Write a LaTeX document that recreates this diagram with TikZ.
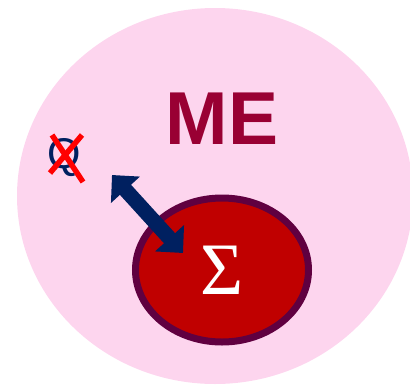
\documentclass[tikz,border=0pt]{standalone}
\usepackage{fontspec}
\setmainfont{Liberation Serif}
\setsansfont{Liberation Sans}
\usetikzlibrary{calc, arrows.meta, shapes.geometric}
\definecolor{pinkbg}{RGB}{253,213,238}
\definecolor{darkred}{RGB}{192,0,0}
\definecolor{plum}{RGB}{96,0,64}
\definecolor{crimson}{RGB}{153,0,51}
\definecolor{navy}{RGB}{0,32,96}
\definecolor{brightred}{RGB}{255,0,0}

\begin{document}
\begin{tikzpicture}[
  x=1pt, y=-1pt,
  region/.style={ellipse, fill=pinkbg, inner sep=0pt},
  core/.style={ellipse, draw=plum, line width=7pt, fill=darkred, inner sep=0pt,
             minimum width=173pt, minimum height=144pt,
             text=white, font=\fontsize{74}{74}\selectfont},
  label/.style={font=\sffamily\bfseries\fontsize{75}{75}\selectfont, text=crimson},
  dblarrow/.style={{Triangle[length=20pt, width=38pt]}-{Triangle[length=20pt, width=38pt]},
             line width=15pt, navy},
  cross/.style={line width=5.5pt, brightred},
]
\useasboundingbox (0,0) rectangle (410,384);
\node[region, minimum width=396pt, minimum height=376pt] (world) at (215,196) {};
\node[label] (me) at (222,119) {ME};
\node[core] (sigma) at (222,270) {Σ};
\node[font=\sffamily\fontsize{43}{43}\selectfont, text=navy, inner sep=0pt] (q) at (64,158) {Q};
% crossed out
\draw[cross] ($(q.center)+(-12,-23)$) -- ($(q.center)+(19,24)$);
\draw[cross] ($(q.center)+(18,-23)$) -- ($(q.center)+(-14,15)$);
\coordinate (qtip) at (112,175);
\coordinate (stip) at (183,253);
\draw[dblarrow] (qtip) -- (stip);
\end{tikzpicture}
\end{document}
